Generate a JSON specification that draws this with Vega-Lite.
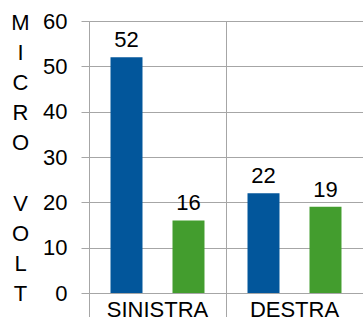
{
  "$schema": "https://vega.github.io/schema/vega-lite/v6.json",
  "autosize": "none",
  "width": 274,
  "height": 272,
  "padding": {"left": 89, "top": 21, "right": 0, "bottom": 24},
  "background": "white",
  "config": {
    "view": {"stroke": null},
    "font": "Liberation Sans",
    "axis": {"labelFont": "Liberation Sans", "titleFont": "Liberation Sans", "labelColor": "#000000", "titleColor": "#000000"}
  },
  "data": {
    "values": [
      {"side": "SINISTRA", "series": "A", "value": 52},
      {"side": "SINISTRA", "series": "B", "value": 16},
      {"side": "DESTRA", "series": "A", "value": 22},
      {"side": "DESTRA", "series": "B", "value": 19}
    ]
  },
  "encoding": {
    "x": {
      "field": "side", "type": "nominal", "sort": ["SINISTRA", "DESTRA"],
      "scale": {"paddingInner": 0, "paddingOuter": 0},
      "axis": {
        "title": null, "bandPosition": 0, "labelOffset": 0, "labelAngle": 0,
        "tickSize": 24, "tickColor": "#A6A6A6", "labelPadding": -18,
        "domainColor": "#A6A6A6", "grid": true, "gridColor": "#A6A6A6",
        "labelFontSize": 22, "labelBaseline": "top"
      }
    },
    "xOffset": {
      "field": "series", "type": "nominal",
      "scale": {"paddingInner": 0.484, "paddingOuter": 0.347}
    },
    "y": {
      "field": "value", "type": "quantitative",
      "scale": {"domain": [0, 60], "nice": false},
      "axis": {
        "values": [0, 10, 20, 30, 40, 50, 60],
        "grid": true, "gridColor": "#A6A6A6", "domainColor": "#A6A6A6",
        "tickColor": "#A6A6A6", "tickSize": 8, "labelPadding": 14, "labelFontSize": 22,
        "title": ["M", "I", "C", "R", "O", "\u200b", "V", "O", "L", "T"],
        "titleAngle": 0, "titleAlign": "center", "titleBaseline": "alphabetic",
        "titleX": -69, "titleY": 8.5, "titleLineHeight": 30.1,
        "titleFontSize": 22, "titleFontWeight": "normal"
      }
    }
  },
  "layer": [
    {
      "mark": {"type": "bar"},
      "encoding": {
        "color": {
          "field": "series", "type": "nominal",
          "scale": {"domain": ["A", "B"], "range": ["#02569B", "#439D2E"]},
          "legend": null
        }
      }
    },
    {
      "mark": {"type": "text", "baseline": "alphabetic", "dy": -10, "fontSize": 22, "color": "#000000"},
      "encoding": {"text": {"field": "value", "type": "quantitative"}}
    }
  ]
}
